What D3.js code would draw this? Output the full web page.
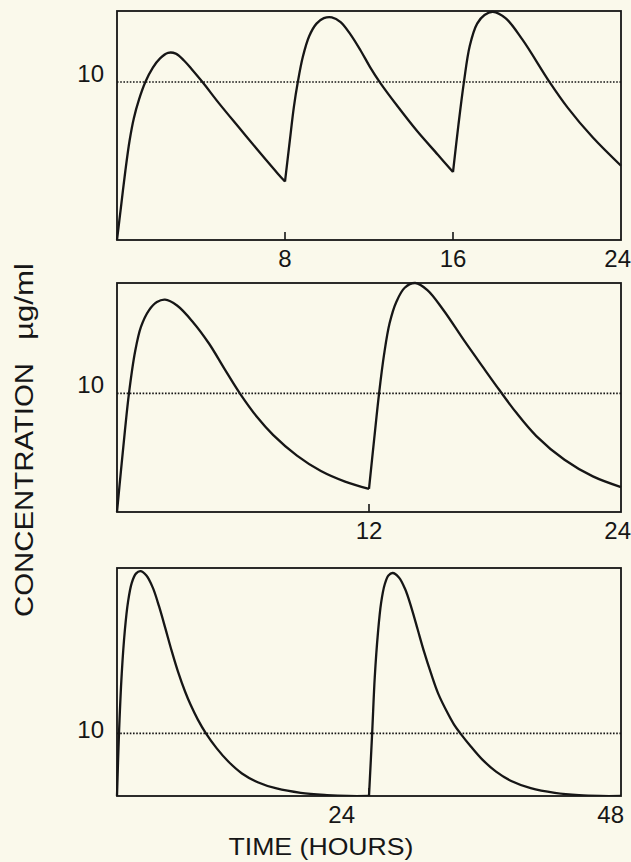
<!DOCTYPE html>
<html lang="en">
<head>
<meta charset="UTF-8">
<title>Concentration</title>
<script src="https://cdn.jsdelivr.net/npm/d3@7"></script>
<style>
body { margin: 0; background: #faf9eb; }
svg { display: block; font-family: "Liberation Sans", Arial, sans-serif; }
</style>
</head>
<body>
<div id="chart"></div>
<script>
// dose every 8 hours
const hours8 = [0, 0.19, 0.4, 0.6, 0.8, 1.05, 1.35, 1.7, 2.05, 2.43, 2.8, 3.2, 3.6, 4.07, 4.86, 5.79, 6.73, 7.66, 8,
    8.23, 8.42, 8.61, 8.85, 9.15, 9.5, 9.85, 10.23, 10.65, 11.1, 11.6, 12.05, 12.51, 13.37, 14.32, 15.28, 16,
    16.26, 16.52, 16.8, 17.15, 17.5, 17.9, 18.5, 19.3, 20.6, 21.45, 22.65, 24]
const conc8 = [0, 2.1, 4.4, 6.3, 7.7, 8.9, 10.0, 10.9, 11.5, 11.85, 11.8, 11.35, 10.75, 10.0, 8.65, 7.15, 5.65, 4.2, 3.7,
    6.3, 8.4, 10.0, 11.6, 12.9, 13.7, 14.05, 14.1, 13.8, 13.05, 12.0, 10.95, 10.0, 8.45, 6.85, 5.4, 4.3,
    7.3, 10.0, 12.3, 13.7, 14.25, 14.45, 14.05, 12.7, 10.0, 8.4, 6.5, 4.7]
const doses8 = [0, 8, 16]
const ticks8 = [8, 16, 24]

// dose every 12 hours
const hours12 = [0, 0.19, 0.38, 0.57, 0.86, 1.14, 1.52, 1.9, 2.29, 2.86, 3.62, 4.38, 5.14, 5.85, 6.67, 7.43, 8.57, 9.71, 10.86, 12,
    12.25, 12.48, 12.72, 12.98, 13.3, 13.7, 14.2, 14.78, 15.55, 16.51, 17.47, 18.2, 19.0, 19.97, 21.31, 22.66, 24]
const conc12 = [0, 3.5, 6.9, 10.0, 13.5, 15.6, 17.0, 17.7, 17.9, 17.4, 16.0, 14.2, 12.0, 10.0, 8.0, 6.5, 4.75, 3.45, 2.56, 1.95,
    6.2, 10.0, 13.3, 15.9, 17.7, 18.9, 19.3, 18.7, 17.0, 14.5, 12.1, 10.3, 8.4, 6.4, 4.4, 3.0, 2.1]
const doses12 = [0, 12]
const ticks12 = [12, 24]

// dose every 24 hours
const hours24 = [0, 0.19, 0.45, 0.75, 1.05, 1.4, 1.8, 2.23, 2.8, 3.4, 4.0, 4.6, 5.2, 5.8, 6.5, 7.0, 7.7, 8.47, 9.5, 10.6, 11.9, 13.4, 15.2, 17.5, 20, 22, 24,
    24.3, 24.55, 24.85, 25.15, 25.5, 25.85, 26.25, 26.85, 27.45, 28.05, 28.65, 29.25, 29.9, 30.6, 31.5, 32.1, 32.7, 33.7, 34.8, 36.1, 37.6, 39.4, 41.7, 44, 46, 48]
const conc24 = [0, 10, 19.5, 26.5, 31.0, 34.0, 35.5, 35.9, 35.2, 33.3, 30.3, 26.8, 23.2, 19.9, 16.6, 14.6, 12.2, 10.0, 7.6, 5.5, 3.6, 2.2, 1.2, 0.5, 0.15, 0, 0,
    10, 19.0, 26.0, 30.8, 33.8, 35.2, 35.6, 34.9, 33.0, 30.0, 26.5, 23.0, 19.6, 16.3, 13.2, 11.4, 10.0, 7.9, 5.8, 3.9, 2.35, 1.25, 0.5, 0.12, 0, 0]
const doses24 = [0, 24]
const ticks24 = [24, 48]

const threshold = 10

const width = 631
const height = 862
const left = 117
const right = 621

// layout of each panel (pixels) + y maximum of its axis
const panels = [
    {hours: hours8, conc: conc8, doses: doses8, ticks: ticks8, top: 11, bottom: 240, ymax: 14.5, anchor: "middle", shift: {}},
    {hours: hours12, conc: conc12, doses: doses12, ticks: ticks12, top: 283, bottom: 512, ymax: 19.3, anchor: "middle", shift: {}},
    {hours: hours24, conc: conc24, doses: doses24, ticks: ticks24, top: 568, bottom: 796, ymax: 36.4, anchor: "end", shift: {24: -14, 48: 3}}
]

const svg = d3.select("#chart")
    .append("svg")
      .attr("width", width)
      .attr("height", height)

const ink = "#161616"

panels.forEach((p, k) => {
    const tmax = p.ticks[p.ticks.length - 1]
    const x = d3.scaleLinear().domain([0, tmax]).range([left, right])
    const y = d3.scaleLinear().domain([0, p.ymax]).range([p.bottom, p.top])
    const g = svg.append("g")

    svg.append("clipPath")
        .attr("id", "clip" + k)
      .append("rect")
        .attr("x", left - 2)
        .attr("y", p.top - 2)
        .attr("width", right - left + 4)
        .attr("height", p.bottom - p.top + 2)

    // frame
    g.append("rect")
        .attr("x", left)
        .attr("y", p.top)
        .attr("width", right - left)
        .attr("height", p.bottom - p.top)
        .attr("fill", "none")
        .attr("stroke", ink)
        .attr("stroke-width", 1.8)

    // 10 ug/ml line
    g.append("line")
        .attr("x1", left)
        .attr("x2", right)
        .attr("y1", y(threshold))
        .attr("y2", y(threshold))
        .attr("stroke", ink)
        .attr("stroke-width", 1.6)
        .attr("stroke-dasharray", "1.6,1.6")

    g.append("text")
        .attr("x", left - 13)
        .attr("y", y(threshold) + (p.anchor === "end" ? 5 : 0))
        .attr("text-anchor", "end")
        .attr("font-size", 24)
        .attr("fill", ink)
        .text(threshold)

    // ticks inside the bottom edge
    g.selectAll(".tick")
        .data(p.ticks.slice(0, -1))
        .enter()
        .append("line")
        .attr("x1", x)
        .attr("x2", x)
        .attr("y1", p.bottom)
        .attr("y2", p.bottom - 8)
        .attr("stroke", ink)
        .attr("stroke-width", 1.6)

    g.selectAll(".lbl")
        .data(p.ticks)
        .enter()
        .append("text")
        .attr("x", t => x(t) + (p.shift[t] !== undefined ? p.shift[t] : (t === tmax ? 10 : 0)))
        .attr("y", p.bottom + 27)
        .attr("text-anchor", t => t === tmax ? "end" : p.anchor)
        .attr("font-size", 24)
        .attr("fill", ink)
        .text(t => t)

    // one curve per dose, so the trough stays a sharp corner
    const pts = p.hours.map((h, i) => ({t: h, c: p.conc[i]}))
    const line = d3.line()
        .x(d => x(d.t))
        .y(d => y(d.c))
        .curve(d3.curveCatmullRom.alpha(0.5))
    p.doses.forEach((d, i) => {
        const end = i + 1 < p.doses.length ? p.doses[i + 1] : tmax
        g.append("path")
            .datum(pts.filter(q => q.t >= d && q.t <= end))
            .attr("clip-path", "url(#clip" + k + ")")
            .attr("fill", "none")
            .attr("stroke", ink)
            .attr("stroke-width", 2.3)
            .attr("stroke-linejoin", "round")
            .attr("d", line)
    })
})

// axis titles
svg.append("text")
    .attr("transform", "translate(33,617) rotate(-90)")
    .attr("font-size", 25)
    .attr("fill", ink)
    .attr("textLength", 254)
    .attr("lengthAdjust", "spacingAndGlyphs")
    .text("CONCENTRATION")

svg.append("text")
    .attr("transform", "translate(33,340) rotate(-90)")
    .attr("font-size", 25)
    .attr("fill", ink)
    .attr("textLength", 77)
    .attr("lengthAdjust", "spacingAndGlyphs")
    .text("\u00b5g/ml")

svg.append("text")
    .attr("x", 321)
    .attr("y", 855)
    .attr("text-anchor", "middle")
    .attr("font-size", 24)
    .attr("fill", ink)
    .attr("textLength", 185)
    .attr("lengthAdjust", "spacingAndGlyphs")
    .text("TIME (HOURS)")
</script>
</body>
</html>
